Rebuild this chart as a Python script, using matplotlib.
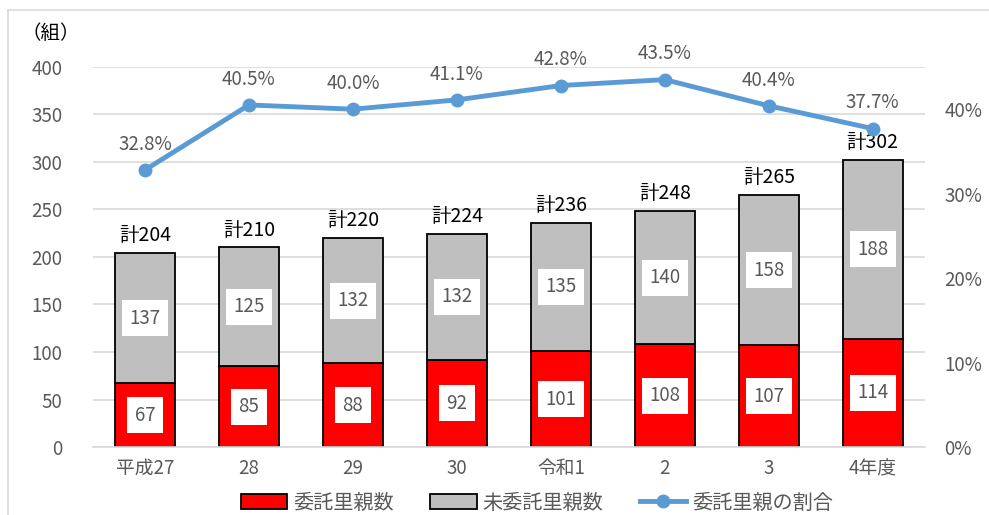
import numpy as np
import matplotlib.pyplot as plt
from matplotlib.lines import Line2D

plt.rcParams['font.family'] = ['Noto Sans CJK JP', 'DejaVu Sans']

years = ['平成27', '28', '29', '30', '令和1', '2', '3', '4年度']
itaku = [67, 85, 88, 92, 101, 108, 107, 114]
mi_itaku = [137, 125, 132, 132, 135, 140, 158, 188]
ratio = [32.8, 40.5, 40.0, 41.1, 42.8, 43.5, 40.4, 37.7]

red = '#FF0000'
grey = '#BFBFBF'
blue = '#5B9BD5'
text_grey = '#595959'

fig = plt.figure(figsize=(9.89, 5.15), dpi=100)
ax = fig.add_axes([0.094, 0.132, 0.841, 0.738])
x = np.arange(len(years))
totals = [a + b for a, b in zip(itaku, mi_itaku)]

ax.bar(x, itaku, width=0.58, color=red, edgecolor='black', linewidth=1.3, zorder=2)
ax.bar(x, mi_itaku, bottom=itaku, width=0.58, color=grey, edgecolor='black', linewidth=1.3, zorder=2)

box = dict(boxstyle='square,pad=0.4', facecolor='white', edgecolor='none')
for i in x:
    ax.text(i, itaku[i] / 2, str(itaku[i]), ha='center', va='center', fontsize=13.5,
            color=text_grey, bbox=box, zorder=4)
    ax.text(i, itaku[i] + mi_itaku[i] / 2, str(mi_itaku[i]), ha='center', va='center',
            fontsize=13.5, color=text_grey, bbox=box, zorder=4)
    ax.annotate('計' + str(totals[i]), (i, totals[i]), xytext=(0, 5), textcoords='offset points',
                ha='center', va='bottom', fontsize=14, color='black', zorder=4)

ax.set_xlim(-0.5, len(years) - 0.5)
ax.set_ylim(0, 400)
ax.set_yticks(range(0, 401, 50))
ax.set_xticks(x)
ax.set_xticklabels(years)
ax.yaxis.grid(True, color='#D9D9D9', linewidth=1.2, zorder=0)
ax.set_axisbelow(True)
for s in ['left', 'right', 'top']:
    ax.spines[s].set_visible(False)
ax.spines['bottom'].set_color('#D9D9D9')
ax.spines['bottom'].set_linewidth(1.2)
ax.tick_params(axis='both', length=0, labelsize=13.5, colors=text_grey, pad=8)
ax.tick_params(axis='y', pad=22)

ax2 = ax.twinx()
ax2.plot(x, [r / 100 for r in ratio], color=blue, linewidth=3.5, marker='o', markersize=9, zorder=5)
for i in x:
    ax2.annotate(f'{ratio[i]:.1f}%', (i, ratio[i] / 100), xytext=(0, 11), textcoords='offset points',
                 ha='center', va='bottom', fontsize=13.5, color=text_grey)
ax2.set_ylim(0, 0.45)
ax2.set_yticks([0, 0.1, 0.2, 0.3, 0.4])
ax2.set_yticklabels(['0%', '10%', '20%', '30%', '40%'])
for s in ax2.spines.values():
    s.set_visible(False)
ax2.tick_params(axis='y', length=0, labelsize=13.5, colors=text_grey, pad=14)

fig.text(0.022, 0.935, '（組）', fontsize=14, color='black', va='center')

handles = [
    plt.Rectangle((0, 0), 1, 1, facecolor=red, edgecolor='black', linewidth=1.3),
    plt.Rectangle((0, 0), 1, 1, facecolor=grey, edgecolor='black', linewidth=1.3),
    Line2D([0], [0], color=blue, linewidth=3.5, marker='o', markersize=9),
]
fig.legend(handles, ['委託里親数', '未委託里親数', '委託里親の割合'], loc='center',
           bbox_to_anchor=(0.543, 0.023), ncol=3, frameon=False, fontsize=14.5,
           handlelength=2.3, handleheight=0.75, columnspacing=1.8, handletextpad=0.3,
           labelcolor=text_grey)

# outer frame (top and left visible)
fig.add_artist(Line2D([0.008, 1.0], [0.981, 0.981], color='#D9D9D9', linewidth=1.2))
fig.add_artist(Line2D([0.008, 0.008], [0.0, 0.981], color='#D9D9D9', linewidth=1.2))

fig.savefig('out.png', dpi=100)
